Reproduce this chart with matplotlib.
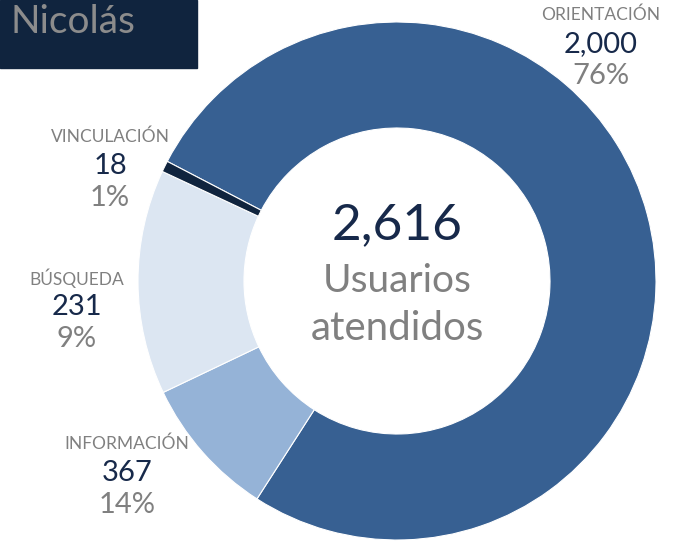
import matplotlib.pyplot as plt
from matplotlib.patches import Rectangle

plt.rcParams['font.family'] = ['Lato', 'DejaVu Sans']

# slice order as drawn clockwise in the reference
categories = ["ORIENTACIÓN", "BÚSQUEDA", "INFORMACIÓN", "VINCULACIÓN"]
values = [2000, 231, 367, 18]
colors = ["#376092", "#95B3D7", "#DCE6F2", "#10243E"]

label_names = ["ORIENTACIÓN", "INFORMACIÓN", "BÚSQUEDA", "VINCULACIÓN"]
count_labels = ["2,000", "367", "231", "18"]
percent_labels = ["76%", "14%", "9%", "1%"]
total_label = "2,616"
title = "Nicolás"

W, H = 683, 541
fig = plt.figure(figsize=(W / 100, H / 100), dpi=100)
ax = fig.add_axes([0, 0, 1, 1])

cx, cy, R = 397, H - 281, 259
ax.pie(values, colors=colors, startangle=152.5, counterclock=False,
       center=(cx, cy), radius=R, frame=True,
       wedgeprops=dict(width=R - 153, edgecolor='white', linewidth=0.8))
ax.set_xlim(0, W)
ax.set_ylim(0, H)
ax.set_aspect('equal')
ax.axis('off')

# title box
ax.add_patch(Rectangle((0, H - 68), 197, 68, color="#10243E", zorder=5))
ax.text(10, H - 22, title, fontsize=28, color="#8C8C8C", va='center', ha='left', zorder=6)

grey = "#808080"
navy = "#17294A"
label_pos = {
    "ORIENTACIÓN": (601, 15),
    "INFORMACIÓN": (127, 444),
    "BÚSQUEDA": (77, 278),
    "VINCULACIÓN": (110, 137),
}
for cat, cnt, pct in zip(label_names, count_labels, percent_labels):
    x, y = label_pos[cat]
    ax.text(x, H - y, cat, fontsize=12.5, color=grey, ha='center', va='center')
    ax.text(x, H - y - 29, cnt, fontsize=21, color=navy, ha='center', va='center')
    ax.text(x, H - y - 61, pct, fontsize=21, color=grey, ha='center', va='center')

ax.text(cx, H - 225, total_label, fontsize=37, color=navy, ha='center', va='center')
ax.text(cx, H - 281, "Usuarios", fontsize=28, color=grey, ha='center', va='center')
ax.text(cx, H - 328, "atendidos", fontsize=29, color=grey, ha='center', va='center')

fig.savefig("out.png", dpi=100)
